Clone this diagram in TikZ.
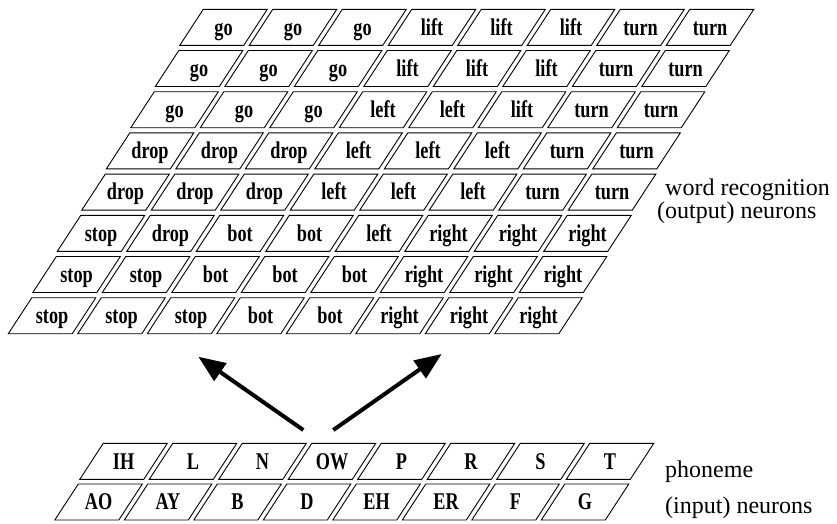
\documentclass[tikz,border=0pt]{standalone}
\usepackage{fontspec}
\setmainfont{Liberation Serif}
\newfontfamily\cellfont{Liberation Serif}[FakeStretch=0.76]
\usetikzlibrary{calc,arrows.meta}
\tikzset{
  celltext/.style={font=\cellfont\bfseries\fontsize{24}{26}\selectfont, inner sep=0pt, text height=15.5pt, text depth=0pt, anchor=center},
  cellline/.style={draw=black, line width=0.9pt},
  sidelabel/.style={font=\fontsize{24}{26}\selectfont, anchor=base west, inner sep=0pt},
  bigarrow/.style={line width=4pt, -{Triangle[length=27pt,width=21pt]}}
}
\newcommand\mycell[4]{%
  \node[celltext] (#1) at (#2,#3) {#4};
  \draw[cellline] ($(#1.center)+(-20.25,-18)$) -- ++(64,0) -- ++(-23.5,36) -- ++(-64,0) -- cycle;
}
\begin{document}
\begin{tikzpicture}[x=1pt,y=-1pt]
\useasboundingbox (0,0) rectangle (837,523);
% word recognition grid
\foreach \row [count=\r from 0] in {
  {go,go,go,lift,lift,lift,turn,turn},
  {go,go,go,lift,lift,lift,turn,turn},
  {go,go,go,left,left,lift,turn,turn},
  {drop,drop,drop,left,left,left,turn,turn},
  {drop,drop,drop,left,left,left,turn,turn},
  {stop,drop,bot,bot,left,right,right,right},
  {stop,stop,bot,bot,bot,right,right,right},
  {stop,stop,stop,bot,bot,right,right,right}}{
  \foreach \w [count=\c from 0] in \row {
    \pgfmathsetmacro\cx{203.3-24.5*\r+69.5*\c+20.25}
    \pgfmathsetmacro\cy{9.3+41.2*\r+18}
    \mycell{w-\r-\c}{\cx}{\cy}{\w}
  }
}
% phoneme grid
\foreach \row [count=\r from 0] in {
  {IH,L,N,OW,P,R,S,T},
  {AO,AY,B,D,EH,ER,F,G}}{
  \foreach \w [count=\c from 0] in \row {
    \pgfmathsetmacro\cx{103.3-25*\r+69.5*\c+20.25}
    \pgfmathsetmacro\cy{443.3+40.7*\r+18}
    \mycell{p-\r-\c}{\cx}{\cy}{\w}
  }
}
% labels
\node[sidelabel] (wl1) at (665,195) {word recognition};
\node[sidelabel] (wl2) at (657,218) {(output) neurons};
\node[sidelabel] (pl1) at (665,477) {phoneme};
\node[sidelabel] (pl2) at (665,513) {(input) neurons};
% arrows
\coordinate (la) at (303.3,430);
\coordinate (lt) at (198.3,356.7);
\coordinate (ra) at (333.3,430);
\coordinate (rt) at (441.7,354);
\draw[bigarrow] (la) -- (lt);
\draw[bigarrow] (ra) -- (rt);
\end{tikzpicture}
\end{document}
